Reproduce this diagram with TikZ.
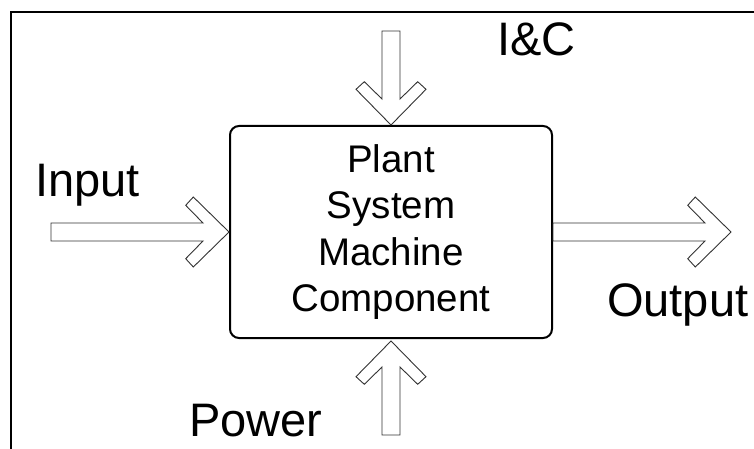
\documentclass[tikz,border=0pt]{standalone}
\usepackage{fontspec}
\setmainfont{Liberation Sans}
\begin{document}
\begin{tikzpicture}[x=1pt,y=-1pt,
  frameline/.style={line width=2pt,black},
  sysbox/.style={draw,line width=2pt,rounded corners=9pt,minimum width=322pt,minimum height=212pt,inner sep=0pt,align=center,font=\fontsize{38.5}{46.6}\selectfont},
  lbl/.style={inner sep=0pt,anchor=base west,font=\fontsize{47}{56}\selectfont},
  arrowline/.style={draw=black!80,line width=0.9pt,fill=white,line join=miter},
  pics/barrow/.style={code={
    \path[arrowline] (0,0) -- (35,-35.7) -- (26.7,-43.3) -- (9,-26) -- (9,-#1)
      -- (-9,-#1) -- (-9,-26) -- (-26.7,-43.3) -- (-35,-35.7) -- cycle;}}]
\useasboundingbox (0,0) rectangle (754,449);
\draw[frameline] (754,12) -- (11,12) -- (11,449);
\node[sysbox] (sys) at (391,232) {Plant\\System\\Machine\\Component};
\coordinate (outtip) at ([xshift=178pt]sys.east);
\pic at (sys.north) {barrow=94};
\pic[rotate=180] at ([yshift=-2pt]sys.south) {barrow=94};
\pic[rotate=90] at (sys.west) {barrow=178};
\pic[rotate=90] at (outtip) {barrow=178};
\node[lbl] (input) at (35,196.7) {Input};
\node[lbl] (ic) at (497,56) {I\&C};
\node[lbl] (output) at (607,316) {Output};
\node[lbl] (power) at (189,436.7) {Power};
\end{tikzpicture}
\end{document}
